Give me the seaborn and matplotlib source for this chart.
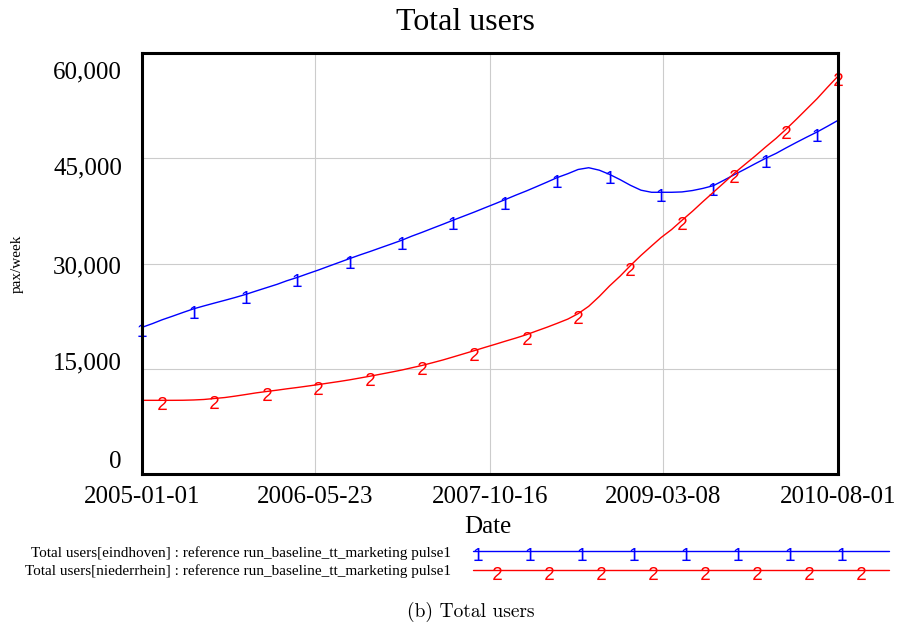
import numpy as np
import pandas as pd
import matplotlib
matplotlib.use("Agg")
import matplotlib.pyplot as plt
import matplotlib.dates as mdates
from matplotlib.ticker import FixedLocator, FuncFormatter
from matplotlib.markers import MarkerStyle
from matplotlib.textpath import TextPath
from matplotlib.font_manager import FontProperties
from matplotlib.path import Path
from matplotlib.transforms import ScaledTranslation
from matplotlib.lines import Line2D
from matplotlib.legend_handler import HandlerLine2D
import seaborn as sns

# ---- data -------------------------------------------------------------
start_date = "2005-01-01"
end_date = "2010-08-01"
tick_dates = ["2005-01-01", "2006-05-23", "2007-10-16", "2009-03-08", "2010-08-01"]
y_ticks = [0, 15000, 30000, 45000, 60000]

# monthly totals (pax/week), Jan 2005 .. Aug 2010
eindhoven = [
    20900, 21440, 21980, 22500, 23020, 23540, 23950, 24360, 24760, 25160,
    25600, 26080, 26560, 27040, 27540, 28020, 28540, 29060, 29600, 30150,
    30700, 31220, 31730, 32250, 32780, 33320, 33880, 34440, 35010, 35590,
    36170, 36750, 37330, 37920, 38520, 39120, 39750, 40350, 40950, 41600,
    42250, 42800, 43400, 43650, 43300, 42700, 41950, 41150, 40450, 40150,
    40150, 40150, 40200, 40400, 40700, 41090, 41870, 42650, 43430, 44210,
    44990, 45700, 46450, 47250, 48000, 48750, 49550, 50400,
]
niederrhein = [
    10500, 10500, 10500, 10500, 10510, 10550, 10620, 10760, 10900, 11100,
    11330, 11560, 11760, 11950, 12140, 12330, 12530, 12740, 12960, 13180,
    13420, 13680, 13950, 14230, 14520, 14820, 15130, 15470, 15850, 16250,
    16680, 17130, 17580, 18030, 18480, 18930, 19380, 19860, 20380, 20920,
    21480, 22080, 22850, 23900, 25300, 26800, 28200, 29700, 31150, 32500,
    33700, 34850, 36150, 37450, 38800, 40150, 41500, 42850, 44100, 45300,
    46600, 47850, 49100, 50550, 52000, 53500, 55100, 56700,
]
series_labels = [
    "Total users[eindhoven] : reference run_baseline_tt_marketing pulse1",
    "Total users[niederrhein] : reference run_baseline_tt_marketing pulse1",
]

dates = pd.date_range(start_date, end_date, freq="MS")

# ---- style ------------------------------------------------------------
sns.set_theme(style="whitegrid")
plt.rcParams["font.family"] = ["Liberation Serif", "DejaVu Serif"]
plt.rcParams.update({
    "text.color": "black",
    "axes.labelcolor": "black",
    "xtick.color": "black",
    "ytick.color": "black",
    "grid.color": "#cccccc",
    "grid.linewidth": 0.8,
})

DIGIT_HEIGHT_PT = 9.4


def digit_marker(ch):
    """A marker shaped like a digit, hanging slightly below its point."""
    tp = TextPath((0, 0), ch, size=1, prop=FontProperties(family="Liberation Sans"))
    verts = tp.vertices.copy()
    codes = tp.codes
    real = codes != Path.CLOSEPOLY
    x0, x1 = verts[real, 0].min(), verts[real, 0].max()
    y0, y1 = verts[real, 1].min(), verts[real, 1].max()
    h = y1 - y0
    verts[:, 0] -= (x0 + x1) / 2
    verts[:, 1] -= (y0 + y1) / 2 + 0.23 * h
    verts /= h
    verts[~real] = 0.0
    extent = np.abs(verts).max()
    size = DIGIT_HEIGHT_PT * 2 * extent
    return MarkerStyle(Path(verts, codes)), size


fig = plt.figure(figsize=(9.02, 6.25), dpi=100)
ax = fig.add_axes([142 / 902, 1 - 474 / 625, 696 / 902, 421 / 625])

series = [
    (eindhoven, "#0000ff", "1", 0, series_labels[0]),
    (niederrhein, "#ff0000", "2", 2, series_labels[1]),
]
handles = []
for values, color, ch, first, label in series:
    mk, ms = digit_marker(ch)
    sns.lineplot(
        x=dates, y=values, ax=ax, color=color, linewidth=1.0,
        marker=mk, markersize=ms, markevery=(first, 5),
        markeredgewidth=0, markerfacecolor=color, markeredgecolor=color,
        errorbar=None, legend=False, label=label, clip_on=False, zorder=3,
    )
    handles.append(ax.lines[-1])

# ---- axes -------------------------------------------------------------
ax.set_xlim(pd.Timestamp(start_date), pd.Timestamp(end_date))
ax.set_ylim(y_ticks[0], y_ticks[-1])
ax.xaxis.set_major_locator(FixedLocator(mdates.date2num(pd.to_datetime(tick_dates))))
ax.xaxis.set_major_formatter(mdates.DateFormatter("%Y-%m-%d"))
ax.yaxis.set_major_locator(FixedLocator(y_ticks))
ax.yaxis.set_major_formatter(FuncFormatter(lambda v, p: f"{v:,.0f}"))
ax.tick_params(axis="x", length=0, pad=8.5, labelsize=18, colors="black")
ax.tick_params(axis="y", length=0, pad=14.4, labelsize=18, colors="black")
ax.grid(True, color="#cccccc", linewidth=0.8)
ax.set_axisbelow(True)
for sp in ax.spines.values():
    sp.set_visible(True)
    sp.set_color("black")
    sp.set_linewidth(2.2)
    sp.set_zorder(4)

# y labels are spread a little inside the axis range
label_shift_px = [-15, -7.8, 1.5, 7.7, 17]
for lbl, shift in zip(ax.get_yticklabels(), label_shift_px):
    lbl.set_transform(lbl.get_transform()
                      + ScaledTranslation(0, -shift / 100, fig.dpi_scale_trans))

ax.set_xlabel("Date", fontsize=18, va="center")
ax.xaxis.set_label_coords(0.497, (474 - 527) / 421)
ax.set_ylabel("pax/week", fontsize=11, va="center")
ax.yaxis.set_label_coords((17 - 142) / 696, 0.5)
ax.set_title("Total users", fontsize=23, x=(465 - 142) / 696,
             y=(474 - 30) / 421, pad=0, va="baseline")


# ---- legend -----------------------------------------------------------
class DigitKeyHandler(HandlerLine2D):
    def __init__(self, lead, pitch=0.1252, count=8):
        super().__init__()
        self.lead, self.pitch, self.count = lead, pitch, count

    def create_artists(self, legend, orig_handle, xdescent, ydescent,
                       width, height, fontsize, trans):
        y = height / 2 - ydescent
        x0 = -xdescent
        line = Line2D([x0, x0 + width], [y, y])
        self.update_prop(line, orig_handle, legend)
        line.set_marker("None")
        xs = x0 + width * (self.lead + self.pitch * np.arange(self.count))
        marks = Line2D(xs, np.full(self.count, y))
        self.update_prop(marks, orig_handle, legend)
        marks.set_linestyle("None")
        marks.set_markevery(None)
        line.set_transform(trans)
        marks.set_transform(trans)
        return [line, marks]


fig.legend(
    handles, series_labels, loc="center left",
    bbox_to_anchor=(25 / 902, 1 - 562 / 625),
    frameon=False, markerfirst=False, fontsize=11,
    handlelength=27.2, handletextpad=1.44, labelspacing=0.3,
    borderpad=0, borderaxespad=0,
    handler_map={handles[0]: DigitKeyHandler(0.012),
                 handles[1]: DigitKeyHandler(0.0577)},
)

fig.text(471 / 902, 1 - 612 / 625, "(b) Total users", family="cmr10",
         fontsize=14, ha="center", va="center", color="black")

fig.savefig("out.png", dpi=100)
